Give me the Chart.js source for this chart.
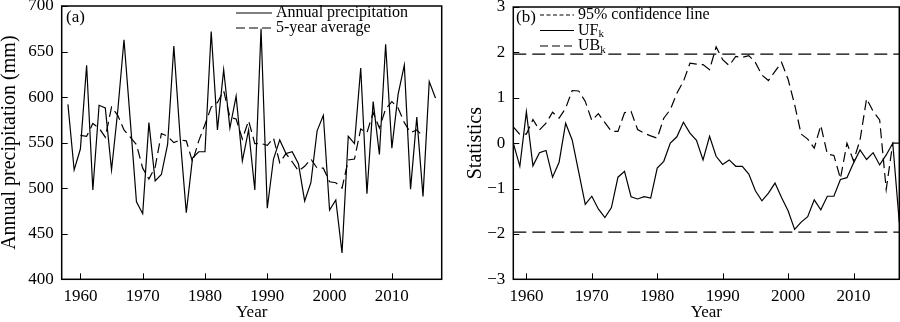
<!DOCTYPE html>
<html>
<head>
<meta charset="utf-8">
<script src="https://cdn.jsdelivr.net/npm/chart.js@4.4.1/dist/chart.umd.min.js"></script>
<style>
  html, body { margin: 0; padding: 0; background: #fff; }
  .panel { position: absolute; top: 0; width: 450px; height: 322px; }
  #left { left: 0; }
  #right { left: 450px; }
</style>
</head>
<body>
<div class="panel" id="left"><canvas id="precipChart" width="450" height="322"></canvas></div>
<div class="panel" id="right"><canvas id="mkChart" width="450" height="322"></canvas></div>
<script>
// Years of record
const years = [1958, 1959, 1960, 1961, 1962, 1963, 1964, 1965, 1966, 1967,
               1968, 1969, 1970, 1971, 1972, 1973, 1974, 1975, 1976, 1977,
               1978, 1979, 1980, 1981, 1982, 1983, 1984, 1985, 1986, 1987,
               1988, 1989, 1990, 1991, 1992, 1993, 1994, 1995, 1996, 1997,
               1998, 1999, 2000, 2001, 2002, 2003, 2004, 2005, 2006, 2007,
               2008, 2009, 2010, 2011, 2012, 2013, 2014, 2015, 2016, 2017];

// Annual precipitation (mm)
const precip = [592, 520, 543, 635, 498, 591, 588, 520, 585, 663,
                575, 485, 472, 572, 508, 515, 548, 656, 557, 473,
                533, 540, 540, 672, 564, 630, 566, 601, 530, 564,
                498, 675, 478, 532, 553, 538, 540, 527, 486, 506,
                563, 580, 476, 487, 429, 557, 549, 632, 494, 595,
                537, 658, 544, 603, 635, 499, 578, 491, 617, 599];

// 5-year average, 1960-2015
const avgYears = years.slice(2, 58);
const avg5 = [558, 557, 571, 566, 556, 589, 580, 564, 556, 548,
              522, 510, 523, 560, 557, 550, 553, 552, 529, 552,
              570, 589, 594, 607, 578, 576, 554, 574, 549, 549,
              547, 555, 528, 538, 529, 519, 524, 532, 522, 522,
              507, 506, 500, 531, 532, 565, 561, 583, 566, 587,
              595, 588, 572, 561, 564, 557];

// Mann-Kendall statistics
const ufk = [0, -0.51, 0.69, -0.50, -0.21, -0.16, -0.75, -0.42, 0.44, 0.07,
             -0.64, -1.35, -1.17, -1.45, -1.64, -1.42, -0.75, -0.62, -1.18, -1.23,
             -1.18, -1.21, -0.55, -0.40, 0.00, 0.14, 0.46, 0.22, 0.06, -0.37,
             0.15, -0.29, -0.47, -0.37, -0.51, -0.51, -0.68, -1.05, -1.27, -1.10,
             -0.88, -1.20, -1.49, -1.90, -1.74, -1.62, -1.25, -1.47, -1.17, -1.17,
             -0.80, -0.76, -0.44, -0.15, -0.36, -0.21, -0.48, -0.26, 0.00, -1.75];
const ubk = [0.36, 0.19, 0.20, 0.52, 0.29, 0.44, 0.68, 0.55, 0.77, 1.16,
             1.15, 0.92, 0.50, 0.65, 0.45, 0.26, 0.26, 0.67, 0.70, 0.30,
             0.22, 0.16, 0.11, 0.55, 0.74, 1.10, 1.36, 1.76, 1.74, 1.73,
             1.62, 2.12, 1.84, 1.71, 1.91, 1.89, 1.93, 1.78, 1.50, 1.38,
             1.58, 1.78, 1.41, 0.85, 0.20, 0.09, -0.11, 0.39, -0.24, -0.27,
             -0.78, 0.00, -0.39, 0.07, 0.98, 0.70, 0.51, -1.02, 0.00, 0.00];
const confLevel = 1.96;

// Tick labels
const xTicks = [1960, 1970, 1980, 1990, 2000, 2010];
const precipTicks = [400, 450, 500, 550, 600, 650, 700];
const statTicks = [-3, -2, -1, 0, 1, 2, 3];

Chart.defaults.font.family = '"Liberation Serif", "Times New Roman", serif';
Chart.defaults.color = '#000';

const pts = (xs, ys) => xs.map((x, i) => ({ x: x, y: ys[i] }));

// frame around the plot + ticks pointing inwards
const framePlugin = {
  id: 'frame',
  afterDraw(chart) {
    const { ctx, chartArea: a, scales } = chart;
    ctx.save();
    ctx.strokeStyle = '#000';
    ctx.lineWidth = 1;
    ctx.beginPath();
    scales.x.ticks.forEach(t => {
      const px = Math.round(scales.x.getPixelForValue(t.value)) + 0.5;
      ctx.moveTo(px, a.bottom);
      ctx.lineTo(px, a.bottom - 6);
    });
    scales.y.ticks.forEach(t => {
      const py = Math.round(scales.y.getPixelForValue(t.value)) + 0.5;
      ctx.moveTo(a.left, py);
      ctx.lineTo(a.left + 6, py);
    });
    ctx.stroke();
    ctx.lineWidth = 1.5;
    ctx.strokeRect(a.left, a.top, a.right - a.left, a.bottom - a.top);
    ctx.restore();
  }
};

// legend drawn inside the plot, like the original figure
const boxLegend = {
  id: 'boxLegend',
  afterDraw(chart, args, o) {
    const ctx = chart.ctx;
    ctx.save();
    ctx.fillStyle = '#000';
    ctx.strokeStyle = '#000';
    ctx.textBaseline = 'middle';
    ctx.font = '17px "Liberation Serif"';
    ctx.fillText(o.tag, o.tagX, o.tagY);
    o.items.forEach((it, i) => {
      const y = o.y + i * o.gap;
      ctx.lineWidth = 1.2;
      ctx.setLineDash(it.dash);
      ctx.beginPath();
      ctx.moveTo(o.x, y);
      ctx.lineTo(o.x + o.len, y);
      ctx.stroke();
      ctx.setLineDash([]);
      ctx.font = '16px "Liberation Serif"';
      ctx.fillText(it.text, o.x + o.len + 4, y);
      if (it.sub) {
        const w = ctx.measureText(it.text).width;
        ctx.font = '11px "Liberation Serif"';
        ctx.fillText(it.sub, o.x + o.len + 4 + w, y + 4);
      }
    });
    ctx.restore();
  }
};

function xScale(min, max) {
  return {
    type: 'linear', min: min, max: max,
    afterBuildTicks: s => { s.ticks = xTicks.map(v => ({ value: v })); },
    afterFit: s => { s.height = 42.7; s.paddingLeft = 0; s.paddingRight = 0; },
    grid: { display: false, drawTicks: false }, border: { display: false },
    ticks: { font: { size: 17 }, padding: 7, maxRotation: 0, callback: v => String(v) },
    title: { display: true, text: 'Year', font: { size: 17 }, padding: { top: 0, bottom: -1 } }
  };
}

function yScale(min, max, ticks, width, title, titlePad) {
  return {
    type: 'linear', min: min, max: max,
    afterBuildTicks: s => { s.ticks = ticks.map(v => ({ value: v })); },
    afterFit: s => { s.width = width; s.paddingTop = 0; s.paddingBottom = 0; },
    grid: { display: false, drawTicks: false }, border: { display: false },
    ticks: { font: { size: 17 }, padding: 8, callback: v => String(v).replace('-', '\u2212') },
    title: { display: true, text: title, font: { size: 20 }, padding: { top: titlePad, bottom: 0 } }
  };
}

const lineBase = { borderColor: '#000', borderWidth: 1.2, pointRadius: 0, tension: 0, fill: false };

new Chart(document.getElementById('precipChart').getContext('2d'), {
  type: 'line',
  data: {
    datasets: [
      Object.assign({ label: 'Annual precipitation', data: pts(years, precip) }, lineBase),
      Object.assign({ label: '5-year average', data: pts(avgYears, avg5), borderDash: [10, 5] }, lineBase)
    ]
  },
  options: {
    responsive: false,
    devicePixelRatio: 1,
    animation: false,
    layout: { padding: { left: 0, right: 8.3, top: 6, bottom: 0 } },
    scales: {
      x: xScale(1957, 2018),
      y: yScale(400, 700, precipTicks, 61.7, 'Annual precipitation (mm)', -2)
    },
    plugins: {
      legend: { display: false },
      tooltip: { enabled: false },
      boxLegend: {
        tag: '(a)', tagX: 66, tagY: 18,
        x: 236, y: 13, gap: 15, len: 36,
        items: [
          { text: 'Annual precipitation', dash: [] },
          { text: '5-year average', dash: [9, 4] }
        ]
      }
    }
  },
  plugins: [framePlugin, boxLegend]
});

new Chart(document.getElementById('mkChart').getContext('2d'), {
  type: 'line',
  data: {
    datasets: [
      Object.assign({ label: 'UFk', data: pts(years, ufk) }, lineBase),
      Object.assign({ label: 'UBk', data: pts(years, ubk), borderDash: [10, 5] }, lineBase),
      Object.assign({ label: '95% confidence line', data: pts([1958, 2017], [confLevel, confLevel]), borderDash: [13, 6] }, lineBase),
      Object.assign({ label: '95% confidence line', data: pts([1958, 2017], [-confLevel, -confLevel]), borderDash: [13, 6] }, lineBase)
    ]
  },
  options: {
    responsive: false,
    devicePixelRatio: 1,
    animation: false,
    layout: { padding: { left: 0, right: 0.7, top: 7, bottom: 0 } },
    scales: {
      x: xScale(1958, 2017),
      y: yScale(-3, 3, statTicks, 63.3, 'Statistics', 14)
    },
    plugins: {
      legend: { display: false },
      tooltip: { enabled: false },
      boxLegend: {
        tag: '(b)', tagX: 66, tagY: 18,
        x: 90, y: 15, gap: 15.5, len: 34,
        items: [
          { text: '95% confidence line', dash: [4, 2.5] },
          { text: 'UF', sub: 'k', dash: [] },
          { text: 'UB', sub: 'k', dash: [8, 4] }
        ]
      }
    }
  },
  plugins: [framePlugin, boxLegend]
});
</script>
</body>
</html>
